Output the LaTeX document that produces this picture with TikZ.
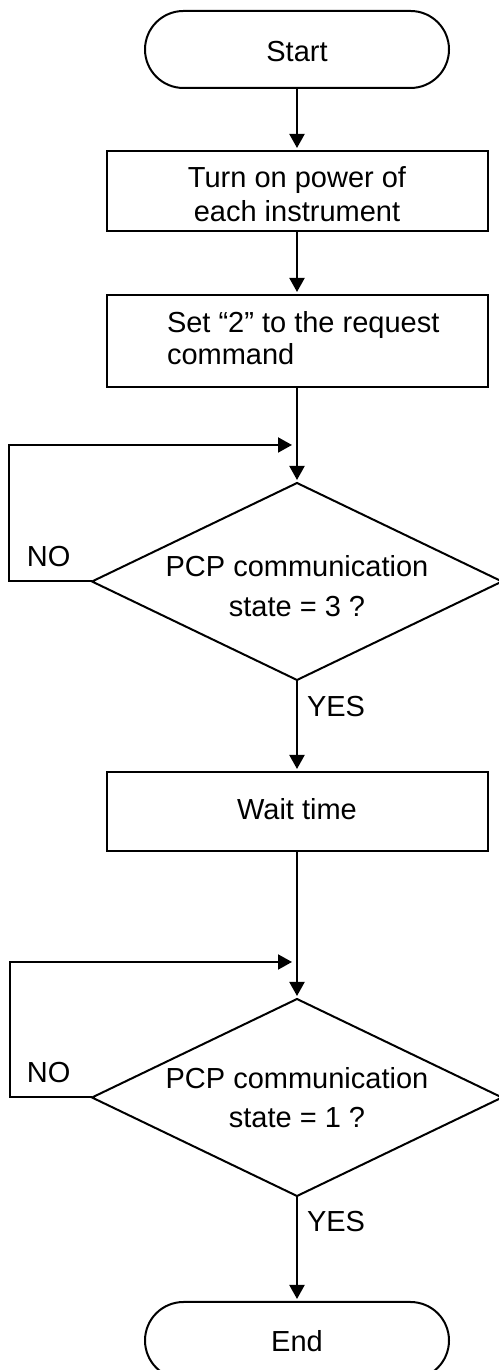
\documentclass[tikz,border=0pt]{standalone}
\usepackage{fontspec}
\setmainfont{Liberation Sans}
\usetikzlibrary{shapes.geometric,shapes.misc,arrows.meta}
\begin{document}
\begin{tikzpicture}[x=1pt,y=1pt,
  line width=2pt,
  every node/.style={inner sep=0pt, outer sep=0pt},
  term/.style={draw, rounded rectangle, minimum width=304pt, minimum height=77pt},
  proc/.style={draw, rectangle, minimum width=381pt},
  dec/.style={draw, diamond, minimum width=410pt, minimum height=197pt},
  txt/.style={anchor=base, font=\fontsize{29}{34}\selectfont},
  flow/.style={-{Triangle[length=14pt,width=15pt]}, shorten >=3pt},
  lbl/.style={anchor=base west, font=\fontsize{29}{34}\selectfont},
]
\useasboundingbox (0,0) rectangle (498,1370);

% shapes
\node[term] (start) at (297,1320.5) {};
\node[proc, minimum height=80pt] (power) at (297,1179) {};
\node[proc, minimum height=92pt] (setreq) at (297,1029) {};
\node[dec] (dec1) at (297,788.5) {};
\node[proc, minimum height=79pt] (wait) at (297,558.5) {};
\node[dec] (dec2) at (297,272.5) {};
\node[term] (end) at (297,29.5) {};

% texts (base anchor of a multi-line node = baseline of its last line)
\node[txt] (tstart) at (297,1308) {Start};
\node[txt, align=center] (tpower) at (297,1148) {Turn on power of\\each instrument};
\node[lbl, align=left, font=\fontsize{29}{32}\selectfont] (tsetreq) at (167,1005) {Set “2” to the request\\command};
\node[txt, align=center, font=\fontsize{29}{40}\selectfont] (tdec1) at (297,753) {PCP communication\\state = 3 ?};
\node[txt] (twait) at (297,550) {Wait time};
\node[txt, align=center, font=\fontsize{29}{39}\selectfont] (tdec2) at (297,242) {PCP communication\\state = 1 ?};
\node[txt] (tend) at (297,18) {End};

% junction coordinates
\coordinate (j1) at (297,925);
\coordinate (j2) at (297,408);

% connectors
\draw[flow] (start) -- (power);
\draw[flow] (power) -- (setreq);
\draw[flow] (setreq) -- (dec1);
\draw[flow] (dec1) -- (wait);
\draw[flow] (wait) -- (dec2);
\draw[flow] (dec2) -- (end);
\draw[-{Triangle[length=14pt,width=15pt]}, shorten >=5pt] (dec1.west) -- ++(-83,0) |- (j1);
\draw[-{Triangle[length=14pt,width=15pt]}, shorten >=5pt] (dec2.west) -- ++(-82,0) |- (j2);

% labels
\node[lbl] (no1) at (27,803) {NO};
\node[lbl] (yes1) at (307,653) {YES};
\node[lbl] (no2) at (27,287) {NO};
\node[lbl] (yes2) at (307,138) {YES};
\end{tikzpicture}
\end{document}
